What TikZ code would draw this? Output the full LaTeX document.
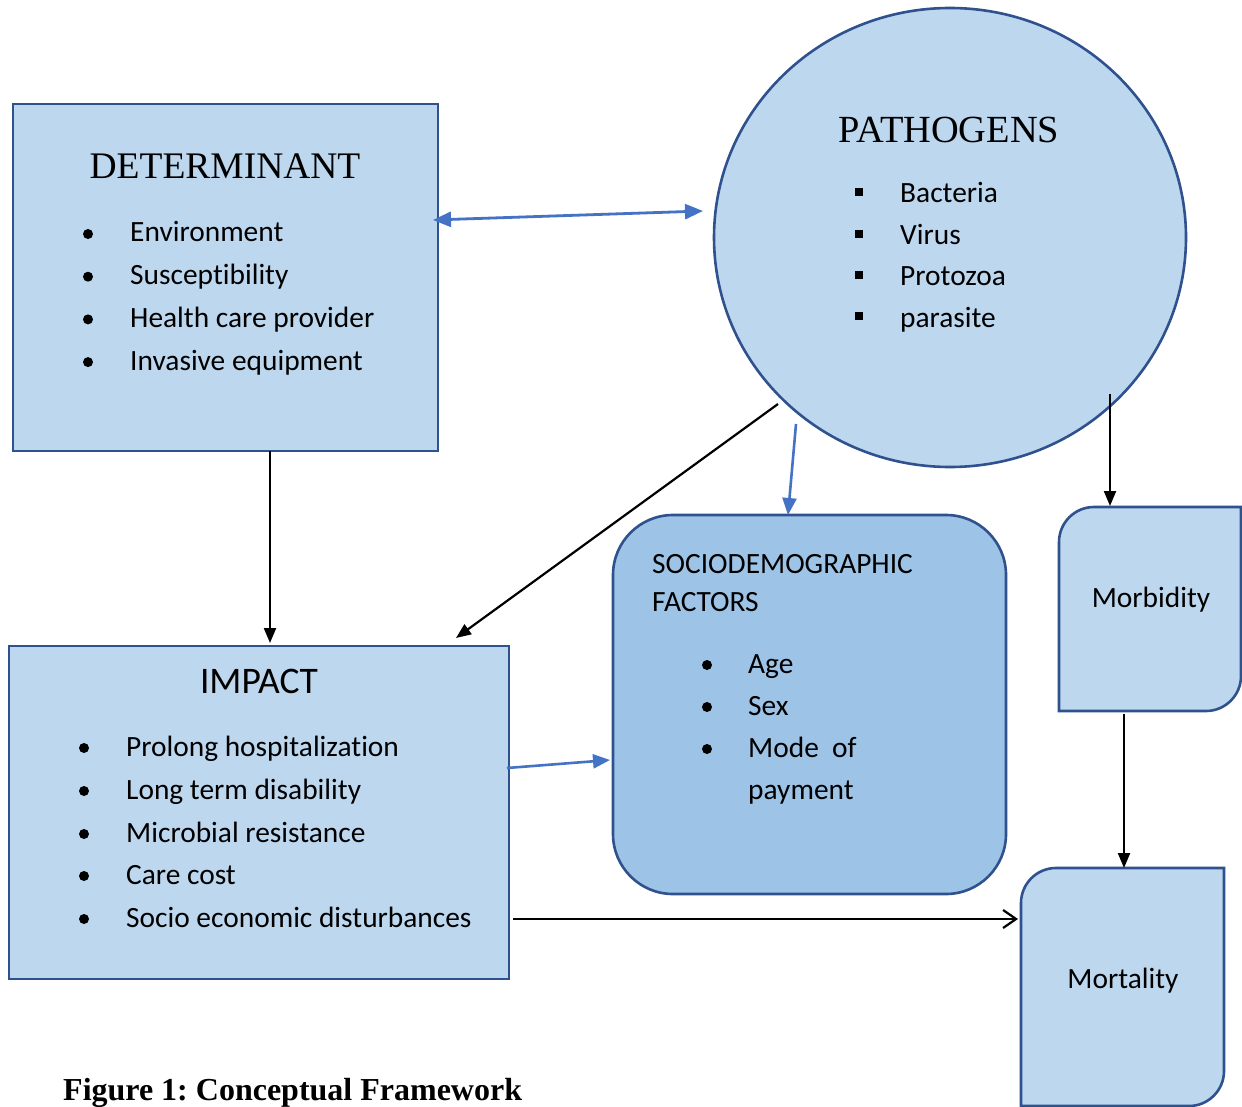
\documentclass[tikz,border=0pt]{standalone}
\usepackage{fontspec}
\setmainfont{Carlito}[Ligatures=NoCommon]
\newfontfamily\timesf{Liberation Serif}
\usetikzlibrary{shapes.geometric,arrows.meta}
\definecolor{boxfill}{HTML}{BDD7EE}
\definecolor{sociofill}{HTML}{9DC3E6}
\definecolor{edgeblue}{HTML}{2F528F}
\definecolor{arrowblue}{HTML}{4472C4}
\frenchspacing
\tikzset{
  box/.style={draw=edgeblue, line width=2.6pt, fill=boxfill, inner sep=0pt},
  txt/.style={inner sep=0pt, font=\fontsize{29.4}{34}\selectfont},
  ttl/.style={inner sep=0pt, font=\timesf\fontsize{38}{44}\selectfont},
  dotb/.style={circle, fill=black, minimum size=10pt, inner sep=0pt},
  sqb/.style={rectangle, fill=black, minimum size=8pt, inner sep=0pt},
  blk/.style={line width=2.2pt, -{Triangle[length=15pt,width=12pt]}},
  blu/.style={line width=2.6pt, draw=arrowblue, -{Triangle[length=17pt,width=14pt]}},
  bluboth/.style={line width=2.8pt, draw=arrowblue, {Triangle[length=18pt,width=15pt]}-{Triangle[length=18pt,width=15pt]}},
  opn/.style={line width=2.2pt, -{Straight Barb[length=13pt,width=18pt,line width=2.2pt]}}
}
\begin{document}
\begin{tikzpicture}[x=1pt,y=-1pt]
\useasboundingbox (0,0) rectangle (1242,1107);
\fill[white] (0,0) rectangle (1242,1107);

% DETERMINANT
\node[box, minimum width=425pt, minimum height=347pt] (det) at (225.5,277.5) {};
\node[ttl, anchor=base, font=\timesf\fontsize{37.5}{44}\selectfont] (dett) at (225,179) {DETERMINANT};
\foreach \t [count=\i] in {Environment,Susceptibility,Health care provider,Invasive equipment}{
  \node[dotb] (db\i) at (88,{242+(\i-1)*42.7-8}) {};
  \node[txt, anchor=base west] (dt\i) at (130,{242+(\i-1)*42.7}) {\t};
}

% PATHOGENS
\node[ellipse, draw=edgeblue, line width=2.6pt, fill=boxfill, minimum width=472pt, minimum height=459pt, inner sep=0pt] (path) at (950,237.5) {};
\node[ttl, anchor=base, font=\timesf\fontsize{38.4}{44}\selectfont] (patht) at (949,143) {PATHOGENS};
\foreach \t/\y [count=\i] in {Bacteria/203,Virus/245,Protozoa/286,parasite/327}{
  \node[sqb] (pb\i) at (859,\y-11) {};
  \node[txt, anchor=base west] (pt\i) at (900,\y) {\t};
}

% IMPACT
\node[box, minimum width=500pt, minimum height=333pt] (imp) at (259,812.5) {};
\node[txt, anchor=base, font=\fontsize{37.5}{44}\selectfont] (impt) at (259,693) {IMPACT};
\foreach \t/\y [count=\i] in {Prolong hospitalization/756,Long term disability/799,Microbial resistance/842,Care cost/884,Socio economic disturbances/927}{
  \node[dotb] (ib\i) at (84,\y-8) {};
  \node[txt, anchor=base west] (it\i) at (126,\y) {\t};
}

% SOCIODEMOGRAPHIC
\node[box, fill=sociofill, rounded corners=60pt, minimum width=393pt, minimum height=379pt] (soc) at (809.5,704.5) {};
\node[txt, anchor=base west] (soct1) at (652,573) {SOCIODEMOGRAPHIC};
\node[txt, anchor=base west] (soct2) at (652,611) {FACTORS};
\foreach \t/\y [count=\i] in {Age/673,Sex/715,Mode\ \ of/757}{
  \node[dotb] (sb\i) at (707,\y-8) {};
  \node[txt, anchor=base west] (st\i) at (748,\y) {\t};
}
\node[txt, anchor=base west] (st4) at (748,799) {payment};

% MORBIDITY
\draw[edgeblue, line width=2.6pt, fill=boxfill]
  (1059,711) -- (1059,542) .. controls (1059,522.7) and (1074.7,507) .. (1094,507) -- (1241,507)
  -- (1241,676) .. controls (1241,695.3) and (1225.3,711) .. (1206,711) -- cycle;
\node[txt, anchor=base] (morb) at (1151,607) {Morbidity};

% MORTALITY
\draw[edgeblue, line width=2.6pt, fill=boxfill]
  (1021,1106) -- (1021,903) .. controls (1021,883.7) and (1036.7,868) .. (1056,868) -- (1224,868)
  -- (1224,1071) .. controls (1224,1090.3) and (1208.3,1106) .. (1189,1106) -- cycle;
\node[txt, anchor=base] (mort) at (1123,988) {Mortality};

% Caption
\node[inner sep=0pt, anchor=base west, font=\timesf\bfseries\fontsize{32}{38}\selectfont] (cap) at (63,1100) {Figure 1: Conceptual Framework};

% connector end points
\coordinate (a1s) at (433,220);
\coordinate (a1e) at (703,211);
\coordinate (a2s) at (270,451);
\coordinate (a2e) at (270,643);
\coordinate (a3s) at (778,404);
\coordinate (a3e) at (456,638);
\coordinate (a4s) at (796,424);
\coordinate (a4e) at (788,515);
\coordinate (a5s) at (1110,394);
\coordinate (a5e) at (1110,506);
\coordinate (a6s) at (1124,714);
\coordinate (a6e) at (1124,868);
\coordinate (a7s) at (507,768);
\coordinate (a7e) at (610,760);
\coordinate (a8s) at (513,919);
\coordinate (a8e) at (1018,919);

\draw[bluboth] (a1s) -- (a1e);
\draw[blk] (a2s) -- (a2e);
\draw[blk] (a3s) -- (a3e);
\draw[blu] (a4s) -- (a4e);
\draw[blk] (a5s) -- (a5e);
\draw[blk] (a6s) -- (a6e);
\draw[blu] (a7s) -- (a7e);
\draw[opn] (a8s) -- (a8e);
\end{tikzpicture}
\end{document}
